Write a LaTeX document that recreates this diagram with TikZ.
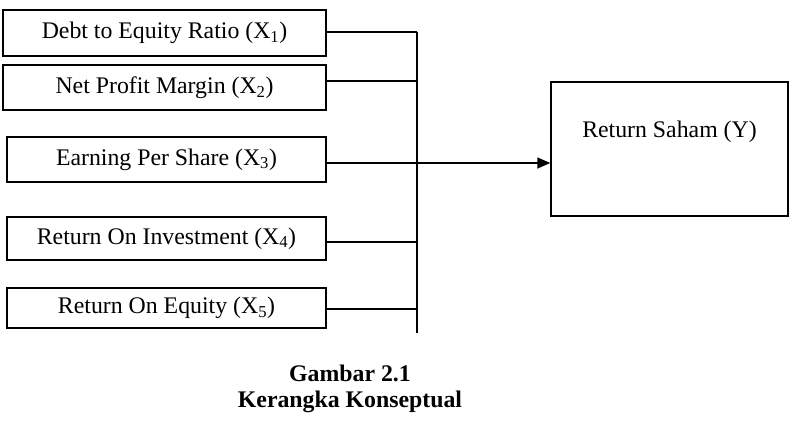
\documentclass[tikz,border=0pt]{standalone}
\usepackage{fontspec}
\setmainfont{Liberation Serif}
\usetikzlibrary{arrows.meta}
\begin{document}
\begin{tikzpicture}[x=1pt,y=-1pt,
  every node/.style={font=\fontsize{23.8}{28}\selectfont},
  varbox/.style={draw, line width=1.4pt, rectangle, inner sep=0pt, align=center},
  conn/.style={line width=1.4pt},
  arr/.style={line width=1.4pt, -{Triangle[length=13pt,width=11pt]}},
  capt/.style={font=\fontsize{23.8}{28}\selectfont\bfseries}]
\useasboundingbox (0,0) rectangle (791,431);
\node[varbox, minimum width=323pt, minimum height=46pt] (x1) at (164.5,33) {Debt to Equity Ratio (X\textsubscript{1})};
\node[varbox, minimum width=323pt, minimum height=45pt] (x2) at (164.5,87.5) {Net Profit Margin (X\textsubscript{2})};
\node[varbox, minimum width=319pt, minimum height=45pt] (x3) at (166.5,159.5) {Earning Per Share (X\textsubscript{3})};
\node[varbox, minimum width=319pt, minimum height=43pt] (x4) at (166.5,238.5) {Return On Investment (X\textsubscript{4})};
\node[varbox, minimum width=319pt, minimum height=40pt] (x5) at (166.5,308) {Return On Equity (X\textsubscript{5})};
\node[varbox, minimum width=237pt, minimum height=134pt,
  label={[yshift=17pt]center:Return Saham (Y)}] (y) at (669.5,149) {};
\coordinate (top) at (417,32);
\coordinate (bot) at (417,333);
\coordinate (j1) at (417,32);
\coordinate (j2) at (417,81);
\coordinate (j3) at (417,163);
\coordinate (j4) at (417,242);
\coordinate (j5) at (417,309);
\draw[conn] (top) -- (bot);
\draw[conn] (x1.east |- j1) -- (j1);
\draw[conn] (x2.east |- j2) -- (j2);
\draw[conn] (x3.east |- j3) -- (j3);
\draw[conn] (x4.east |- j4) -- (j4);
\draw[conn] (x5.east |- j5) -- (j5);
\draw[arr] (j3) -- (y.west |- j3);
\node[capt] (c1) at (350,373) {Gambar 2.1};
\node[capt] (c2) at (350,402) {Kerangka Konseptual};
\end{tikzpicture}
\end{document}
